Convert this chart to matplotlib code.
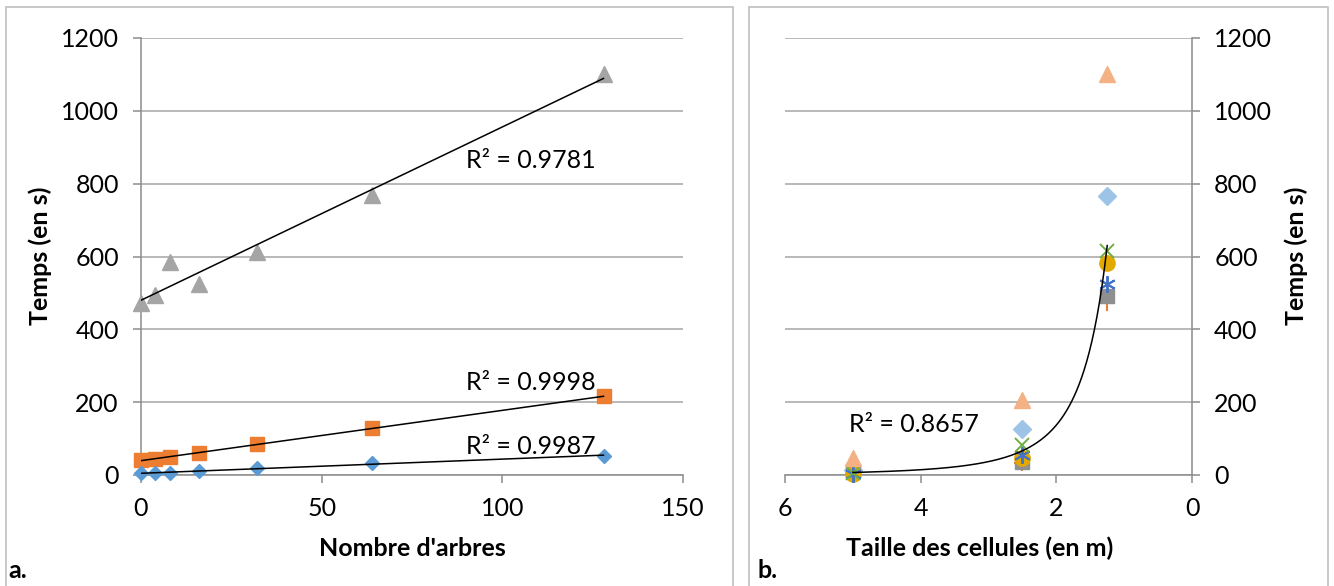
import numpy as np
import matplotlib
matplotlib.use("Agg")
import matplotlib.pyplot as plt
from matplotlib.patches import Rectangle

plt.rcParams['font.family'] = ['Lato', 'DejaVu Sans']

# ---------- data : panel a ----------
trees = [0, 4, 8, 16, 32, 64, 128]
time_blue = [5, 5, 6, 11, 19, 32, 53]
time_orange = [41, 44, 50, 60, 85, 128, 216]
time_gray = [471, 495, 585, 525, 612, 768, 1102]
r2_a = ["R² = 0.9987", "R² = 0.9998", "R² = 0.9781"]

# ---------- data : panel b ----------
cell = [5, 2.5, 1.25]
b_diamond = [14, 126, 767]
b_plus = [2, 33, 471]
b_square = [10, 37, 491]
b_circle = [4, 46, 583]
b_star = [3, 55, 525]
b_cross = [5, 82, 616]
b_triangle = [46, 205, 1100]
r2_b = "R² = 0.8657"

W, H = 1334, 586
fig = plt.figure(figsize=(W / 100, H / 100), dpi=100)

def fx(px):
    return px / W

def fy(py):
    return 1 - py / H

# panel frames
for x0, x1 in [(6, 733), (749, 1328)]:
    fig.patches.append(Rectangle((fx(x0), fy(600)), fx(x1) - fx(x0), fy(7) - fy(600),
                                 transform=fig.transFigure, fill=False,
                                 edgecolor='#BFBFBF', linewidth=1.2, zorder=0))

grid_c = '#A6A6A6'
axis_c = '#8C8C8C'
fs = 18

# ---------- panel a ----------
axa = fig.add_axes([fx(141), fy(475), fx(683) - fx(141), fy(38) - fy(475)])
axa.set_xlim(0, 150)
axa.set_ylim(0, 1200)
axa.set_xticks([0, 50, 100, 150])
axa.set_yticks(range(0, 1201, 200))
axa.yaxis.grid(True, color=grid_c, linewidth=1.1)
axa.set_axisbelow(True)
for s in ['top', 'right']:
    axa.spines[s].set_visible(False)
for s in ['left', 'bottom']:
    axa.spines[s].set_color(axis_c)
    axa.spines[s].set_linewidth(1.1)
axa.tick_params(axis='both', direction='out', length=6, width=1.1, color=axis_c,
                labelsize=fs, pad=10)

xa = np.array(trees, dtype=float)
axa.plot(trees, time_gray, linestyle='none', marker='^', ms=11, color='#A5A5A5', zorder=3, clip_on=False)
axa.plot(trees, time_orange, linestyle='none', marker='s', ms=10, color='#ED7D31', zorder=3, clip_on=False)
axa.plot(trees, time_blue, linestyle='none', marker='D', ms=7.5, color='#5B9BD5', zorder=3, clip_on=False)
xs = np.linspace(0, 128, 50)
for ys in [time_blue, time_orange, time_gray]:
    p = np.polyfit(xa, np.array(ys, dtype=float), 1)
    axa.plot(xs, np.polyval(p, xs), color='black', linewidth=1.1, zorder=4)

axa.text(108, 863, r2_a[2], fontsize=fs, ha='center', va='center')
axa.text(108, 255, r2_a[1], fontsize=fs, ha='center', va='center')
axa.text(108, 78, r2_a[0], fontsize=fs, ha='center', va='center')

fig.text(fx(40), fy(256), "Temps (en s)", rotation=90, fontsize=fs, fontweight='bold',
         ha='center', va='center')
fig.text(fx(412), fy(548), "Nombre d'arbres", fontsize=fs, fontweight='bold',
         ha='center', va='center')
fig.text(fx(8), fy(570), "a.", fontsize=fs, fontweight='bold', ha='left', va='center')

# ---------- panel b ----------
axb = fig.add_axes([fx(785), fy(475), fx(1192) - fx(785), fy(38) - fy(475)])
axb.set_xlim(6, 0)
axb.set_ylim(0, 1200)
axb.set_xticks([6, 4, 2, 0])
axb.set_yticks(range(0, 1201, 200))
axb.yaxis.tick_right()
axb.yaxis.set_label_position('right')
axb.yaxis.grid(True, color=grid_c, linewidth=1.1)
axb.set_axisbelow(True)
for s in ['top', 'left']:
    axb.spines[s].set_visible(False)
for s in ['right', 'bottom']:
    axb.spines[s].set_color(axis_c)
    axb.spines[s].set_linewidth(1.1)
axb.tick_params(axis='both', direction='out', length=6, width=1.1, color=axis_c,
                labelsize=fs, pad=10)

kw = dict(linestyle='none', zorder=3, clip_on=False)
axb.plot(cell, b_diamond, marker='D', ms=9, color='#9DC3E6', **kw)
axb.plot(cell, b_plus, marker='+', ms=11, mew=1.5, color='#ED7D31', **kw)
axb.plot(cell, b_square, marker='s', ms=10, color='#8F8F8F', **kw)
axb.plot(cell, b_circle, marker='o', ms=11, color='#E2AA00', **kw)
axb.plot(cell, b_star, marker=(6, 2, 0), ms=12, mew=1.4, color='#4472C4', **kw)
axb.plot(cell, b_cross, marker='x', ms=10, mew=1.4, color='#70AD47', **kw)
axb.plot(cell, b_triangle, marker='^', ms=12, color='#F4B183', **kw)

allx = np.repeat(np.array(cell, dtype=float)[None, :], 7, axis=0).ravel()
ally = np.array([b_diamond, b_plus, b_square, b_circle, b_star, b_cross, b_triangle], dtype=float).ravel()
pb = np.polyfit(np.log(allx), np.log(ally), 1)
xc = np.linspace(1.25, 5, 200)
axb.plot(xc, np.exp(np.polyval(pb, np.log(xc))), color='black', linewidth=1.1, zorder=4)

axb.text(4.1, 140, r2_b, fontsize=fs, ha='center', va='center')

fig.text(fx(1296), fy(256), "Temps (en s)", rotation=90, fontsize=fs, fontweight='bold',
         ha='center', va='center')
fig.text(fx(980), fy(548), "Taille des cellules (en m)", fontsize=fs, fontweight='bold',
         ha='center', va='center')
fig.text(fx(757), fy(570), "b.", fontsize=fs, fontweight='bold', ha='left', va='center')

fig.savefig("out.png", dpi=100)
